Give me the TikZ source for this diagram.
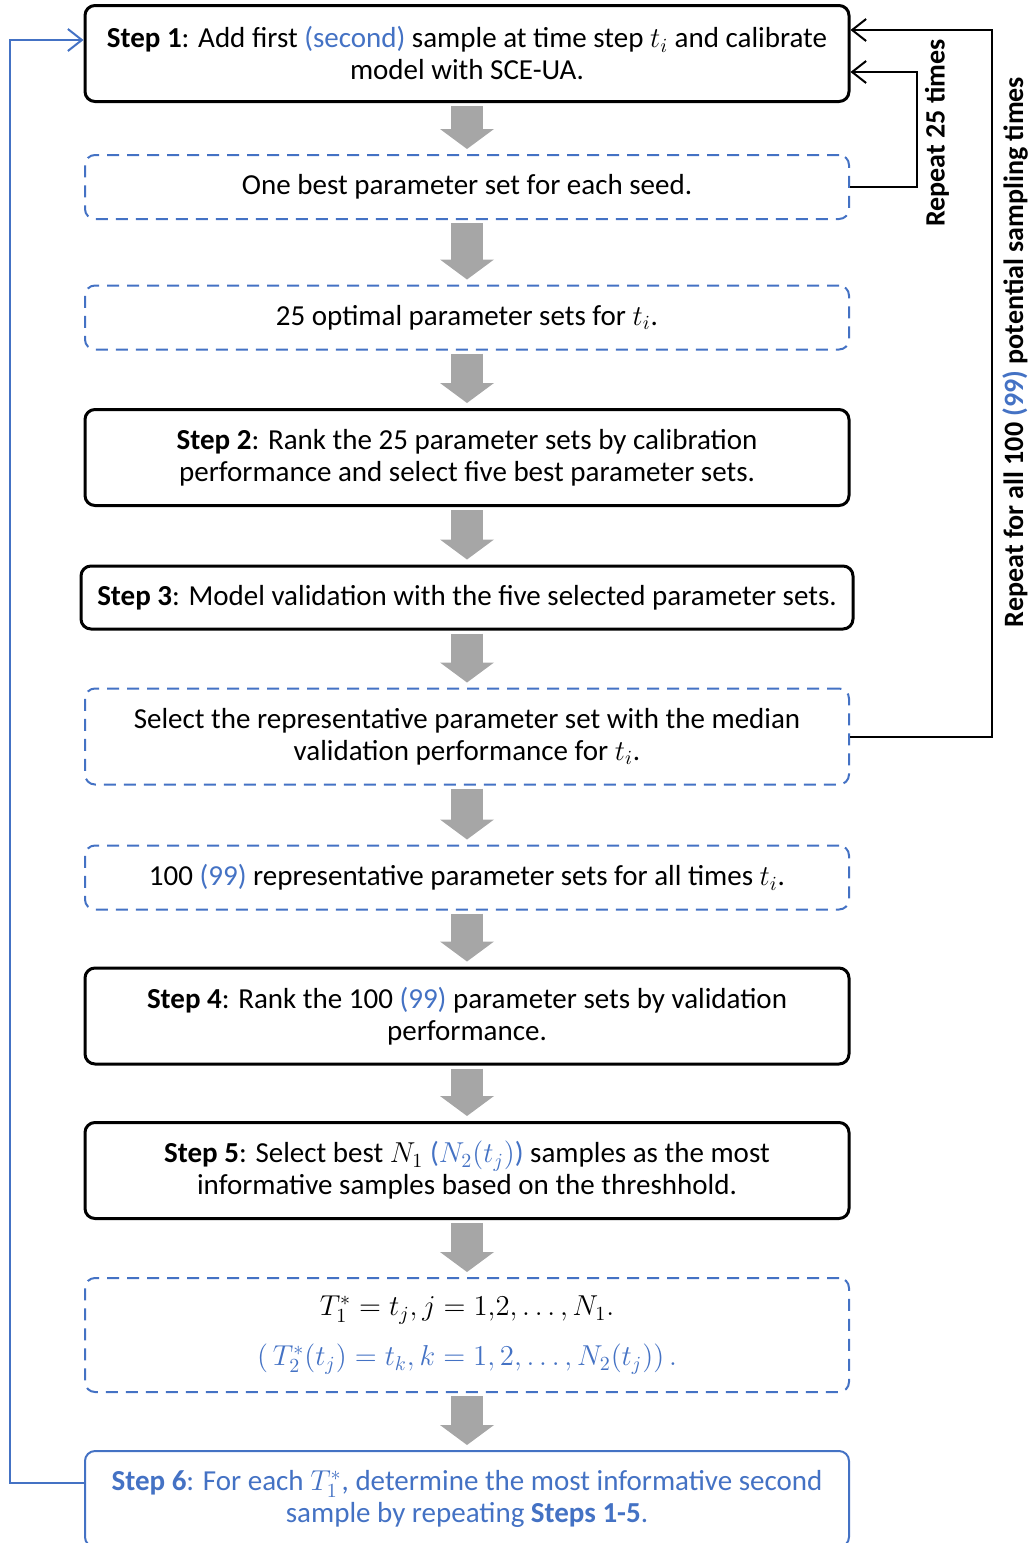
\documentclass[tikz,border=0pt]{standalone}
\usepackage{fontspec}
\setmainfont{Carlito}
\usepackage{amsmath}
\usepackage{xcolor}
\usetikzlibrary{arrows.meta}

\definecolor{stepblue}{RGB}{68,114,196}
\definecolor{arrowgray}{RGB}{166,166,166}
\newcommand{\bl}[1]{\textcolor{stepblue}{#1}}

\begin{document}
\begin{tikzpicture}[x=0.5pt,y=-0.5pt,
        every node/.style={align=center,font=\fontsize{14.5}{16}\selectfont},
        stepbox/.style={draw,rounded corners=5pt,line width=1.5pt,
            minimum width=382pt,minimum height=48pt,inner sep=0pt},
        setbox/.style={draw=stepblue,dash pattern=on 6pt off 4pt,rounded corners=5pt,
            line width=1pt,minimum width=382pt,minimum height=32pt,inner sep=0pt},
        bigarrow/.style={draw=arrowgray,line width=16pt,
            -{Triangle[length=10pt,width=27pt,line width=0pt]}},
        loopline/.style={line width=1pt,-{Straight Barb[length=7pt,width=11pt]}},
        looplabel/.style={rotate=90,font=\fontsize{14}{16}\selectfont\bfseries}]
    \useasboundingbox (0,0) rectangle (1035,1543);
    \clip (0,0) rectangle (1035,1543);

    \node[stepbox] (b1) at (467,53.5)
        {\textbf{Step 1}: Add first \bl{(second)} sample at time step $t_i$ and calibrate\\ model with SCE-UA.};
    \node[setbox] (b2) at (467,187) {One best parameter set for each seed.};
    \node[setbox] (b3) at (467,317.5) {25 optimal parameter sets for $t_i$.};
    \node[stepbox] (b4) at (467,457.5)
        {\textbf{Step 2}: Rank the 25 parameter sets by calibration\\ performance and select five best parameter sets.};
    \node[stepbox,minimum width=386pt,minimum height=31.5pt] (b5) at (467,597.5)
        {\textbf{Step 3}: Model validation with the five selected parameter sets.};
    \node[setbox,minimum height=48pt] (b6) at (467,736.5)
        {Select the representative parameter set with the median\\ validation performance for $t_i$.};
    \node[setbox] (b7) at (467,877.5) {100 \bl{(99)} representative parameter sets for all times $t_i$.};
    \node[stepbox] (b8) at (467,1016)
        {\textbf{Step 4}: Rank the 100 \bl{(99)} parameter sets by validation\\ performance.};
    \node[stepbox] (b9) at (467,1170.5)
        {\textbf{Step 5}: Select best $N_1$ \bl{($N_2(t_j)$)} samples as the most\\ informative samples based on the threshhold.};
    \node[setbox,minimum height=57pt] (b10) at (467,1335)
        {$T_1^* = t_j, j = 1{,}2, \dots, N_1.$\\[9pt]
         \bl{$(\,T_2^*(t_j) = t_k, k = 1, 2, \dots, N_2(t_j))\,.$}};
    \node[stepbox,draw=stepblue,line width=1pt,text=stepblue] (b11) at (467,1499)
        {\textbf{Step 6}: For each $T_1^*$, determine the most informative second\\ sample by repeating \textbf{Steps 1-5}.};

    % gray flow arrows
    \foreach \i [count=\j from 2] in {1,...,10}
        \draw[bigarrow] ([yshift=-1.5pt]b\i.south) -- ([yshift=2.5pt]b\j.north);

    % repeat loops
    \coordinate (k1) at (917,72);
    \coordinate (k2) at (992,30);
    \draw[loopline] (b2.east) -| (k1) -- (b1.east |- k1);
    \draw[loopline] (b6.east) -| (k2) -- (b1.east |- k2);
    \node[looplabel] at (937,133) {Repeat 25 times};
    \node[looplabel] at (1015,352) {Repeat for all 100 \bl{(99)} potential sampling times};

    % back to step 1
    \coordinate (k3) at (10,40);
    \coordinate (k4) at (10,1483);
    \draw[loopline,draw=stepblue] (b11.west |- k4) -- (k4) -- (k3) -- (b1.west |- k3);
\end{tikzpicture}
\end{document}
